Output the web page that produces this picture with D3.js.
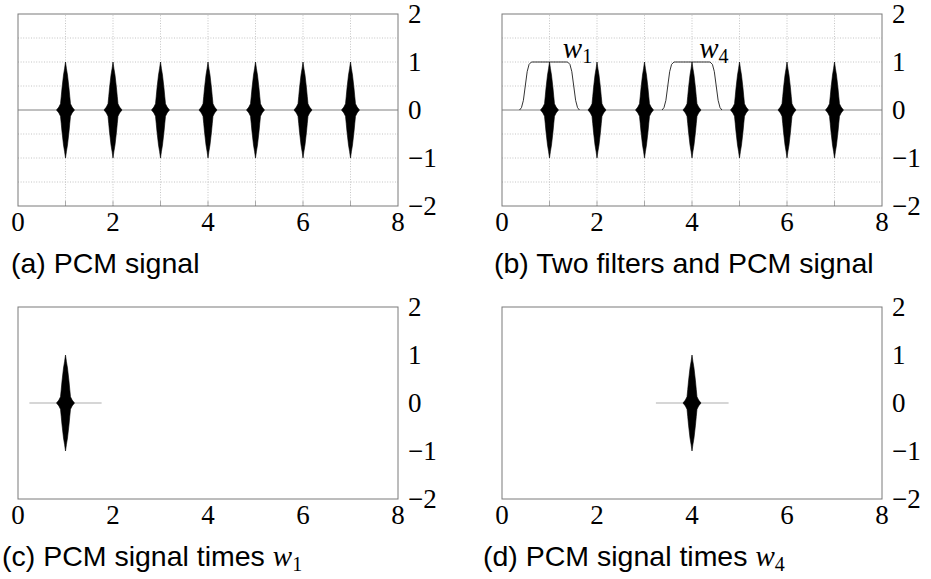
<!DOCTYPE html>
<html>
<head>
<meta charset="utf-8">
<script src="https://cdn.jsdelivr.net/npm/d3@7"></script>
<style>
	body { margin: 0; background: #fff; }
	svg { display: block; }
</style>
</head>
<body>
<script>
	// Axis ticks and grid
	const xTicks = [0, 2, 4, 6, 8];
	const yTicks = [-2, -1, 0, 1, 2];
	const gridX = [1, 2, 3, 4, 5, 6, 7];
	const gridY = [-1.5, -1, -0.5, 0.5, 1, 1.5];

	// PCM pulses: centres and the upper envelope of one pulse (offset, amplitude)
	const pulseCenters = [1, 2, 3, 4, 5, 6, 7];
	const pulseOffset = [-0.19, -0.14, -0.105, -0.09, -0.073, -0.042, -0.02, 0, 0.02, 0.042, 0.073, 0.09, 0.105, 0.14, 0.19];
	const pulseAmp = [0, 0.06, 0.13, 0.28, 0.46, 0.73, 0.86, 1, 0.86, 0.73, 0.46, 0.28, 0.13, 0.06, 0];

	// Filter windows w1 and w4 (offset from centre, value)
	const filterCenters = [1, 4];
	const filterNames = ["1", "4"];
	const filterOffset = [-0.63, -0.59, -0.55, -0.51, -0.47, -0.43, -0.38, 0.38, 0.43, 0.47, 0.51, 0.55, 0.59, 0.63];
	const filterValue = [0, 0.05, 0.2, 0.5, 0.8, 0.95, 1, 1, 0.95, 0.8, 0.5, 0.2, 0.05, 0];
	const filterLabelX = [1.28, 4.15];
	const filterLabelY = 1.09;

	// Products: support of the windowed signal
	const productCenters = [1, 4];
	const productSpan = [[0.24, 1.76], [3.24, 4.77]];

	const width = 931, height = 579;
	const plotW = 380, plotH = 192;

	const svg = d3.select("body").append("svg")
		.attr("width", width)
		.attr("height", height)
		.style("background", "#fff");

	const serif = "'Liberation Serif', 'DejaVu Serif', serif";
	const sans = "'Liberation Sans', Arial, sans-serif";

	const panels = [
		{ left: 18, top: 14, grid: true, pulses: pulseCenters, caption: "(a) PCM signal", capX: 11, capY: 273 },
		{ left: 502, top: 14, grid: true, pulses: pulseCenters, showFilters: true, caption: "(b) Two filters and PCM signal", capX: 494, capY: 273 },
		{ left: 18, top: 307, grid: false, product: 0, caption: "(c) PCM signal times ", sub: "1", capX: 2, capY: 566 },
		{ left: 502, top: 307, grid: false, product: 1, caption: "(d) PCM signal times ", sub: "4", capX: 483, capY: 566 }
	];

	panels.forEach(p => {
		const x = d3.scaleLinear().domain([0, 8]).range([p.left, p.left + plotW]);
		const y = d3.scaleLinear().domain([-2, 2]).range([p.top + plotH, p.top]);
		const g = svg.append("g");

		if (p.grid) {
			g.selectAll(".gx").data(gridX).enter().append("line")
				.attr("x1", d => x(d)).attr("x2", d => x(d))
				.attr("y1", y(-2)).attr("y2", y(2))
				.attr("stroke", "#b5b5b5")
				.attr("stroke-width", 0.8)
				.attr("stroke-dasharray", "1,1.6");
			g.selectAll(".gy").data(gridY).enter().append("line")
				.attr("x1", x(0)).attr("x2", x(8))
				.attr("y1", d => y(d)).attr("y2", d => y(d))
				.attr("stroke", "#b5b5b5")
				.attr("stroke-width", 0.8)
				.attr("stroke-dasharray", "1,1.6");
			// small ticks on the bottom edge
			g.selectAll(".tk").data(gridX).enter().append("line")
				.attr("x1", d => x(d)).attr("x2", d => x(d))
				.attr("y1", y(-2)).attr("y2", y(-2) - 5)
				.attr("stroke", "#999")
				.attr("stroke-width", 0.8);
			g.append("line")
				.attr("x1", x(0)).attr("x2", x(8))
				.attr("y1", y(0)).attr("y2", y(0))
				.attr("stroke", "#808080")
				.attr("stroke-width", 1);
		}

		const area = d3.area()
			.x(d => x(d.t))
			.y0(d => y(-d.a))
			.y1(d => y(d.a));

		let centers = p.pulses || [];
		if (p.product !== undefined) {
			const span = productSpan[p.product];
			g.append("line")
				.attr("x1", x(span[0])).attr("x2", x(span[1]))
				.attr("y1", y(0)).attr("y2", y(0))
				.attr("stroke", "#c8c8c8")
				.attr("stroke-width", 1.4);
			centers = [productCenters[p.product]];
		}

		g.selectAll(".pulse").data(centers).enter().append("path")
			.attr("d", c => area(pulseOffset.map((t, i) => ({ t: c + t, a: pulseAmp[i] }))))
			.attr("fill", "#000")
			.attr("stroke", "#000")
			.attr("stroke-width", 0.6);

		if (p.showFilters) {
			const line = d3.line().x(d => x(d.t)).y(d => y(d.v));
			filterCenters.forEach((c, k) => {
				g.append("path")
					.attr("d", line(filterOffset.map((t, i) => ({ t: c + t, v: filterValue[i] }))))
					.attr("fill", "none")
					.attr("stroke", "#000")
					.attr("stroke-width", 0.8);

				const lab = g.append("text")
					.attr("x", x(filterLabelX[k]))
					.attr("y", y(filterLabelY))
					.style("font-family", serif)
					.style("font-size", "29px");
				lab.append("tspan").style("font-style", "italic").text("w");
				lab.append("tspan").attr("dy", 5).style("font-size", "20px").text(filterNames[k]);
			});
		}

		// frame
		g.append("rect")
			.attr("x", x(0)).attr("y", y(2))
			.attr("width", plotW).attr("height", plotH)
			.attr("fill", "none")
			.attr("stroke", "#7a7a7a")
			.attr("stroke-width", 1);

		// x tick labels
		g.selectAll(".xl").data(xTicks).enter().append("text")
			.attr("x", d => x(d))
			.attr("y", y(-2) + 25)
			.attr("text-anchor", "middle")
			.style("font-family", serif)
			.style("font-size", "27px")
			.text(d => d);

		// y tick labels on the right
		g.selectAll(".yl").data(yTicks).enter().append("text")
			.attr("x", x(8) + 10)
			.attr("y", d => y(d) + 9)
			.style("font-family", serif)
			.style("font-size", "27px")
			.text(d => d < 0 ? "\u2212" + Math.abs(d) : d);

		// caption
		const cap = svg.append("text")
			.attr("x", p.capX)
			.attr("y", p.capY)
			.style("font-family", sans)
			.style("font-size", "28.5px")
			.text(p.caption);
		if (p.sub) {
			cap.append("tspan")
				.style("font-family", serif)
				.style("font-style", "italic")
				.style("font-size", "29px")
				.text("w");
			cap.append("tspan")
				.attr("dy", 5)
				.style("font-family", serif)
				.style("font-size", "20px")
				.text(p.sub);
		}
	});
</script>
</body>
</html>
